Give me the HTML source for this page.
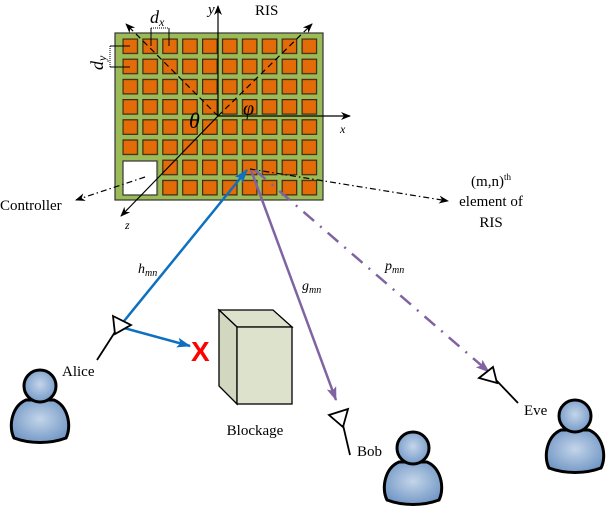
<!DOCTYPE html>
<html><head><meta charset="utf-8"><style>
html,body{margin:0;padding:0;background:#fff;}
svg{display:block;font-family:"Liberation Serif",serif;}
</style></head><body>
<svg width="606" height="506" viewBox="0 0 606 506" xmlns="http://www.w3.org/2000/svg">
<defs>
<marker id="ak" markerWidth="10" markerHeight="8" refX="9" refY="4" orient="auto" markerUnits="userSpaceOnUse"><path d="M0,0 L10,4 L0,8 L3,4z" fill="#000"/></marker>
<marker id="ab" markerWidth="14" markerHeight="10" refX="13" refY="5" orient="auto" markerUnits="userSpaceOnUse"><path d="M0,0 L14,5 L0,10 L3,5z" fill="#0f70c0"/></marker>
<marker id="ap" markerWidth="14" markerHeight="10" refX="13" refY="5" orient="auto" markerUnits="userSpaceOnUse"><path d="M0,0 L14,5 L0,10 L3,5z" fill="#8064a2"/></marker>
<radialGradient id="pg" cx="0.5" cy="0.45" r="0.6"><stop offset="0" stop-color="#c4d5ea"/><stop offset="1" stop-color="#6f95c4"/></radialGradient>
<pattern id="cellp" patternUnits="userSpaceOnUse" x="122.4" y="38.4" width="19.9" height="20.2">
<rect x="0.6" y="0.6" width="14.5" height="14.5" fill="#e36c09" stroke="#3a2a10" stroke-width="1.2"/>
</pattern>
<g id="person">
<path d="M-26,52 C-32,40 -28,20 -14,14 L14,14 C28,20 32,40 26,52 C10,58 -10,58 -26,52z" fill="url(#pg)" stroke="#000" stroke-width="3"/>
<circle cx="0" cy="0" r="16" fill="url(#pg)" stroke="#000" stroke-width="3"/>
</g>
</defs>
<rect x="115" y="33" width="208" height="167" fill="#9bbb59" stroke="#333" stroke-width="1.2"/>
<rect x="122.4" y="38.4" width="195" height="158" fill="url(#cellp)"/>
<rect x="121" y="159" width="37" height="38" fill="#9bbb59"/>
<rect x="123" y="161" width="34" height="34" fill="#fff" stroke="#333" stroke-width="1.2"/>
<g stroke="#000" stroke-width="1.2" fill="none">
<line x1="218" y1="116" x2="218" y2="6" marker-end="url(#ak)"/>
<line x1="218" y1="116" x2="350" y2="116" marker-end="url(#ak)"/>
<line x1="218" y1="116" x2="121" y2="216" marker-end="url(#ak)"/>
<line x1="218" y1="116" x2="126" y2="24" stroke-dasharray="6,4" marker-end="url(#ak)"/>
<line x1="218" y1="116" x2="312" y2="24" stroke-dasharray="6,4" marker-end="url(#ak)"/>
<line x1="145" y1="177" x2="76" y2="200" stroke-dasharray="6,3,1.5,3" marker-end="url(#ak)"/>
<line x1="250" y1="169" x2="448" y2="201" stroke-dasharray="6,3,1.5,3" marker-end="url(#ak)"/>
<line x1="151" y1="28" x2="151" y2="46" stroke-width="1"/>
<line x1="169" y1="28" x2="169" y2="46" stroke-width="1"/>
<line x1="151" y1="28" x2="169" y2="28" stroke-dasharray="1,1" stroke-width="1"/>
<line x1="110" y1="46" x2="130" y2="46" stroke-width="1"/>
<line x1="110" y1="67" x2="130" y2="67" stroke-width="1"/>
<line x1="110" y1="46" x2="110" y2="67" stroke-dasharray="1,1" stroke-width="1"/>
</g>
<text x="208" y="14" font-size="15" font-style="italic">y</text>
<text x="255" y="15" font-size="15">RIS</text>
<text x="340" y="133" font-size="12" font-style="italic">x</text>
<text x="125" y="229" font-size="12" font-style="italic">z</text>
<text x="150" y="23" font-size="18" font-style="italic">d<tspan font-size="12" dy="3">x</tspan></text>
<text transform="translate(103,70) rotate(-90)" font-size="18" font-style="italic">d<tspan font-size="12" dy="3">y</tspan></text>
<text x="189" y="128" font-size="22" font-style="italic">θ</text>
<text x="243" y="115" font-size="20" font-style="italic">φ</text>
<text x="0" y="210" font-size="15">Controller</text>
<text x="491" y="186" font-size="15" text-anchor="middle">(m,n)<tspan font-size="9" dy="-6">th</tspan></text>
<text x="491" y="206" font-size="15" text-anchor="middle">element of</text>
<text x="491" y="227" font-size="15" text-anchor="middle">RIS</text>
<line x1="120" y1="326" x2="247" y2="170" stroke="#0f70c0" stroke-width="2.5" marker-end="url(#ab)"/>
<line x1="124" y1="328" x2="190" y2="346" stroke="#0f70c0" stroke-width="2.5" marker-end="url(#ab)"/>
<line x1="251" y1="170" x2="336" y2="400" stroke="#8064a2" stroke-width="2.5" marker-end="url(#ap)"/>
<line x1="255" y1="170" x2="489" y2="372" stroke="#8064a2" stroke-width="2.5" stroke-dasharray="14,8,2,8" marker-end="url(#ap)"/>
<text x="138" y="273" font-size="14" font-style="italic">h<tspan font-size="10" dy="3">mn</tspan></text>
<text x="302" y="290" font-size="14" font-style="italic">g<tspan font-size="10" dy="3">mn</tspan></text>
<text x="385" y="270" font-size="14" font-style="italic">p<tspan font-size="10" dy="3">mn</tspan></text>
<text x="191" y="361" font-size="28" font-weight="bold" fill="#f00" font-family="Liberation Sans,sans-serif">X</text>
<path d="M219,310 L273,310 L292,327 L237,327z" fill="#dde2cc" stroke="#000" stroke-width="1.3"/>
<path d="M219,310 L237,327 L237,404 L219,386z" fill="#d2d7bf" stroke="#000" stroke-width="1.3"/>
<rect x="237" y="327" width="55" height="77" fill="#dde2cc" stroke="#000" stroke-width="1.3"/>
<text x="255" y="435" font-size="15" text-anchor="middle">Blockage</text>
<g stroke="#000" stroke-width="1.8" fill="#fff">
<path d="M113,316 L131,325 L115,334z"/><line x1="115" y1="332" x2="97" y2="360"/>
<path d="M329,415 L348,409 L343,427z"/><line x1="343" y1="425" x2="350" y2="455"/>
<path d="M479,378 L493,367 L497,383z"/><line x1="496" y1="380" x2="518" y2="403"/>
</g>
<text x="62" y="376" font-size="15">Alice</text>
<text x="357" y="456" font-size="15">Bob</text>
<text x="524" y="415" font-size="15">Eve</text>
<use href="#person" x="40" y="386"/>
<use href="#person" x="413" y="448"/>
<use href="#person" x="575" y="416"/>
</svg>
</body></html>
